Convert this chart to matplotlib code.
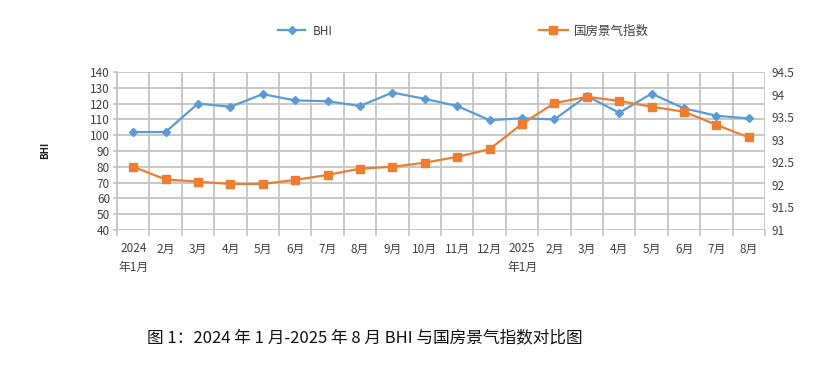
import numpy as np
import matplotlib
matplotlib.use('Agg')
import matplotlib.pyplot as plt

plt.rcParams['font.family'] = ['Noto Sans CJK SC', 'DejaVu Sans']

# month labels (x axis)
months = ['2024\n年1月', '2月', '3月', '4月', '5月', '6月', '7月', '8月', '9月', '10月',
          '11月', '12月', '2025\n年1月', '2月', '3月', '4月', '5月', '6月', '7月', '8月']
# BHI (left axis)
bhi = [102, 102, 120, 118, 126, 122, 121.5, 118.5, 127, 123,
       118.5, 109.5, 110.7, 110, 124.8, 114.2, 126.3, 117, 112.3, 110.6]
# 国房景气指数 (right axis)
gf = [92.40, 92.12, 92.07, 92.02, 92.02, 92.11, 92.22, 92.36, 92.40, 92.49,
      92.62, 92.79, 93.35, 93.81, 93.95, 93.86, 93.73, 93.62, 93.33, 93.05]

blue = '#5B9BD5'
orange = '#ED7D31'
grid_c = '#c4c4c4'
txt_c = '#404040'

fig = plt.figure(figsize=(8.32, 3.66), dpi=100)
ax = fig.add_axes([0.1406, 0.3716, 0.7789, 0.4317])
ax2 = ax.twinx()

x = np.arange(len(months))
l1, = ax.plot(x, bhi, color=blue, lw=1.6, marker='D', ms=4, label='BHI', zorder=3)
l2, = ax2.plot(x, gf, color=orange, lw=1.6, marker='s', ms=6, label='国房景气指数', zorder=3)

ax.set_xlim(-0.5, len(months) - 0.5)
ax.set_ylim(40, 140)
ax.set_yticks(np.arange(40, 141, 10))
ax2.set_ylim(91, 94.5)
ax2.set_yticks(np.arange(91, 94.51, 0.5))
ax2.set_yticklabels(['91', '91.5', '92', '92.5', '93', '93.5', '94', '94.5'])

ax.set_xticks(x)
ax.set_xticklabels(months)
ax.set_xticks(np.arange(-0.5, len(months), 1), minor=True)
ax.tick_params(axis='x', which='major', length=0, pad=9, labelsize=8.5, colors=txt_c)
ax.tick_params(axis='x', which='minor', length=4, width=1.2, color=grid_c)
ax.tick_params(axis='y', length=3, width=1.2, color=grid_c, labelsize=8.5, labelcolor=txt_c, pad=2)
ax2.tick_params(axis='y', length=0, labelsize=8.5, labelcolor=txt_c, pad=5)

ax.grid(True, which='minor', axis='x', color=grid_c, lw=1.3)
ax.grid(True, which='major', axis='y', color=grid_c, lw=1.3)
for a in (ax, ax2):
    for s in a.spines.values():
        s.set_visible(False)
ax.spines['left'].set_visible(True)
ax.spines['left'].set_color(grid_c)
ax.spines['left'].set_linewidth(1.3)
ax.set_axisbelow(True)

for lab in ax.get_xticklabels():
    lab.set_linespacing(1.55)

fig.text(0.054, 0.59, 'BHI', rotation=90, fontsize=7, fontweight='bold',
         color='#202020', ha='center', va='center')

fig.legend([l1], ['BHI'], loc='center', bbox_to_anchor=(0.367, 0.915), frameon=False,
           fontsize=8.5, handlelength=2.3, handletextpad=0.6, labelcolor=txt_c)
fig.legend([l2], ['国房景气指数'], loc='center', bbox_to_anchor=(0.714, 0.915), frameon=False,
           fontsize=9, handlelength=2.3, handletextpad=0.5, labelcolor=txt_c)

fig.text(0.4387, 0.078, '图 1：2024 年 1 月-2025 年 8 月 BHI 与国房景气指数对比图',
         fontsize=12, color='#111111', ha='center', va='center')

fig.savefig('out.png', dpi=100)
